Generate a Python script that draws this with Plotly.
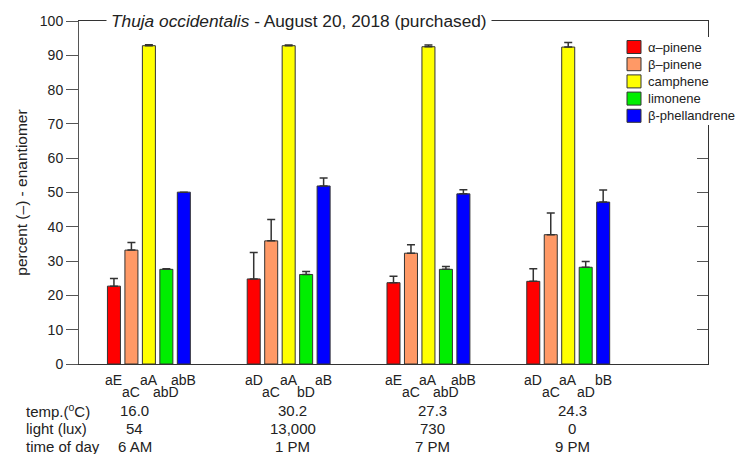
import plotly.graph_objects as go

# Sampling times (one cluster of bars per time point)
groups = [0, 1, 2, 3]

series_names = ["α–pinene", "β–pinene", "camphene", "limonene", "β-phellandrene"]

alpha_pinene = [22.7, 24.8, 23.7, 24.1]
alpha_pinene_sd = [2.2, 7.7, 1.9, 3.7]
beta_pinene = [33.2, 35.9, 32.3, 37.7]
beta_pinene_sd = [2.2, 6.2, 2.5, 6.3]
camphene = [92.8, 92.8, 92.5, 92.4]
camphene_sd = [0.3, 0.2, 0.5, 1.3]
limonene = [27.6, 26.1, 27.6, 28.2]
limonene_sd = [0.2, 0.9, 0.8, 1.7]
beta_phellandrene = [50.1, 51.9, 49.6, 47.2]
beta_phellandrene_sd = [0.0, 2.3, 1.2, 3.5]

# Significance letters under each bar (series x time)
alpha_pinene_letters = ["aE", "aD", "aE", "aD"]
beta_pinene_letters = ["aC", "aC", "aC", "aC"]
camphene_letters = ["aA", "aA", "aA", "aA"]
limonene_letters = ["abD", "bD", "abD", "aD"]
beta_phellandrene_letters = ["abB", "aB", "abB", "bB"]

row_labels = ["temp.(<sup>o</sup>C)", "light (lux)", "time of day"]
temperatures = ["16.0", "30.2", "27.3", "24.3"]
light_lux = ["54", "13,000", "730", "0"]
times_of_day = ["6 AM", "1 PM", "7 PM", "9 PM"]

y_ticks = [0, 10, 20, 30, 40, 50, 60, 70, 80, 90, 100]

colors = ["#ff0000", "#ff9966", "#ffff00", "#00ee00", "#0000ff"]

values = [alpha_pinene, beta_pinene, camphene, limonene, beta_phellandrene]
sds = [alpha_pinene_sd, beta_pinene_sd, camphene_sd, limonene_sd, beta_phellandrene_sd]
letters = [alpha_pinene_letters, beta_pinene_letters, camphene_letters,
           limonene_letters, beta_phellandrene_letters]

FONT = "Arial, Liberation Sans, sans-serif"
INK = "#222222"
EDGE = "#333333"
BARGAP = 0.375
n_series = len(series_names)

# plot area geometry in pixels (used to place the key in paper units)
W, H = 736, 454
ML, MR, MT, MB = 79, 28, 21, 90
PW, PH = W - ML - MR, H - MT - MB


def px_x(px):
    return (px - ML) / PW


def px_y(py):
    return (H - MB - py) / PH


fig = go.Figure()
for name, vals, sd, col in zip(series_names, values, sds, colors):
    fig.add_trace(go.Bar(
        x=groups, y=vals, name=name,
        marker=dict(color=col, line=dict(color=EDGE, width=1)),
        error_y=dict(type="data", array=sd, arrayminus=[0] * len(sd),
                     symmetric=False, color=EDGE, thickness=1.5, width=4),
    ))

# invisible trace carrying the right-hand frame axis
fig.add_trace(go.Scatter(x=[None], y=[None], yaxis="y2", showlegend=False,
                         hoverinfo="skip"))

annotations = []
shapes = []

# letters: alternate raised / lowered rows beneath each bar
for i in range(n_series):
    offset = (-0.5 + (i + 0.5) / n_series) * (1 - BARGAP)
    shift = -16 if i % 2 == 0 else -28
    for g, txt in zip(groups, letters[i]):
        annotations.append(dict(
            x=g + offset, y=0, xref="x", yref="y", text=txt, showarrow=False,
            xanchor="center", yanchor="middle", yshift=shift,
            font=dict(family=FONT, size=14, color=INK)))

# condition table below the axis
row_y = [-46, -64, -82]
for lab, yy in zip(row_labels, row_y):
    annotations.append(dict(
        x=px_x(24), y=0, xref="paper", yref="y", text=lab, showarrow=False,
        xanchor="left", yanchor="middle", yshift=yy,
        font=dict(family=FONT, size=15, color=INK)))

value_x = [g + 0.03 for g in groups]
value_x[0] = groups[0] - 0.10
for row, yy in zip([temperatures, light_lux, times_of_day], row_y):
    for xv, txt in zip(value_x, row):
        annotations.append(dict(
            x=xv, y=0, xref="x", yref="y", text=txt, showarrow=False,
            xanchor="center", yanchor="middle", yshift=yy,
            font=dict(family=FONT, size=15, color=INK)))

# title sits on the top frame line
annotations.append(dict(
    x=px_x(106), y=100, xref="paper", yref="y",
    text="<i>Thuja occidentalis</i> - August 20, 2018 (purchased)",
    showarrow=False, xanchor="left", yanchor="middle",
    bgcolor="white", borderpad=4,
    font=dict(family=FONT, size=17.3, color=INK)))

# key in the upper right corner, on a white patch over the frame
shapes.append(dict(type="rect", xref="paper", yref="paper", layer="above",
                   x0=px_x(620), x1=px_x(736), y0=px_y(125), y1=px_y(37),
                   fillcolor="white", line=dict(width=0)))
for i, (name, col) in enumerate(zip(series_names, colors)):
    cy = 47 + 17.2 * i
    shapes.append(dict(type="rect", xref="paper", yref="paper", layer="above",
                       x0=px_x(627), x1=px_x(641),
                       y0=px_y(cy + 6.5), y1=px_y(cy - 6.5),
                       fillcolor=col, line=dict(color=EDGE, width=1)))
    annotations.append(dict(
        x=px_x(646), y=px_y(cy), xref="paper", yref="paper", text=name,
        showarrow=False, xanchor="left", yanchor="middle",
        font=dict(family=FONT, size=13, color=INK)))

fig.update_layout(
    width=W, height=H,
    margin=dict(l=ML, r=MR, t=MT, b=MB),
    paper_bgcolor="white", plot_bgcolor="white",
    barmode="group", bargap=BARGAP, bargroupgap=0.255,
    font=dict(family=FONT, size=14, color=INK),
    showlegend=False,
    xaxis=dict(range=[-0.5, 4.0], showticklabels=False, ticks="",
               showgrid=False, zeroline=False, showline=True,
               linecolor=EDGE, linewidth=1.2, mirror=True),
    yaxis=dict(range=[0, 100], tickvals=y_ticks, ticks="outside", ticklen=12,
               tickcolor="#555555", showgrid=False, zeroline=False,
               showline=True, linecolor="#555555", linewidth=1,
               tickfont=dict(family=FONT, size=14, color=INK),
               title=dict(text="percent (–) - enantiomer", standoff=8,
                          font=dict(family=FONT, size=15.5, color=INK))),
    yaxis2=dict(range=[0, 100], tickvals=y_ticks, overlaying="y", side="right",
                ticks="inside", ticklen=11, tickcolor="#555555",
                showticklabels=False, showgrid=False, zeroline=False,
                showline=True, linecolor=EDGE, linewidth=1.2),
    annotations=annotations,
    shapes=shapes,
)

fig.write_html("out.html")
